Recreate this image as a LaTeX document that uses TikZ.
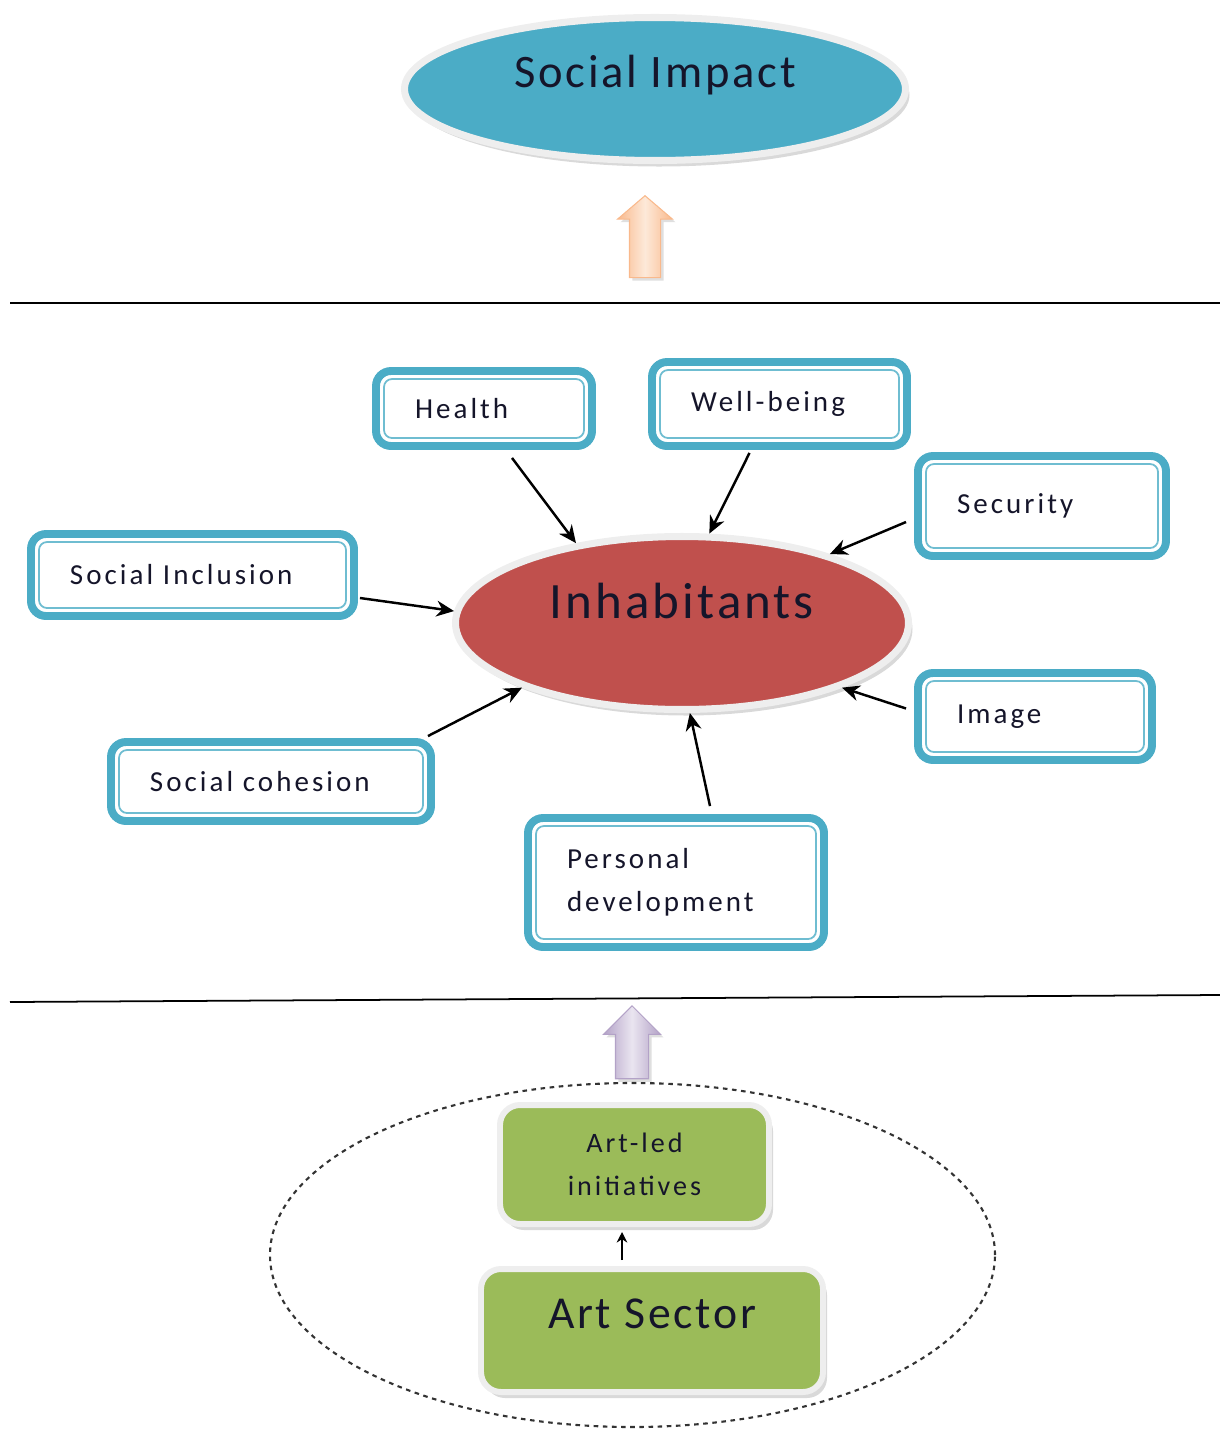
\documentclass[tikz,border=0pt]{standalone}
\usepackage{fontspec}
\usepackage{tikz}
\usetikzlibrary{calc,shapes.geometric,shapes.arrows,shadows,arrows.meta}

\setmainfont{Carlito}
\newfontfamily\smallfont[LetterSpace=10.5]{Carlito}
\newfontfamily\bigfont[LetterSpace=6]{Carlito}

\definecolor{impactblue}{HTML}{4BACC6}
\definecolor{inhabred}{HTML}{C0504D}
\definecolor{artgreen}{HTML}{9BBB59}
\definecolor{rimgrey}{HTML}{EEEEEE}
\definecolor{inktext}{HTML}{15152A}
\definecolor{peach}{HTML}{F9B98C}
\definecolor{peachlight}{HTML}{FDE9D9}
\definecolor{lilac}{HTML}{B3A2C7}
\definecolor{lilaclight}{HTML}{EAE5F0}

\tikzset{
  factor/.style={rectangle, draw=impactblue, line width=4.5pt, rounded corners=3mm,
    fill=white, align=left, inner xsep=7.8mm, inner ysep=0pt, text=inktext,
    font=\smallfont\fontsize{16.5}{24.5}\selectfont,
    path picture={\draw[impactblue!80, line width=1pt, rounded corners=1.6mm]
      ([shift={(1.6mm,1.6mm)}]path picture bounding box.south west) rectangle
      ([shift={(-1.6mm,-1.6mm)}]path picture bounding box.north east);}},
  bubble/.style={ellipse, draw=rimgrey, line width=4pt, inner sep=2pt, text=inktext,
    drop shadow={shadow xshift=0.8mm, shadow yshift=-1.2mm, opacity=0.3}},
  artbox/.style={rectangle, rounded corners=4mm, fill=artgreen, draw=rimgrey,
    line width=3.4pt, inner sep=2pt, text=inktext,
    drop shadow={shadow xshift=0.8mm, shadow yshift=-1.2mm, opacity=0.3}},
  feeds/.style={line width=1.4pt, -{Stealth[length=10pt,width=9pt]}},
  tier/.style={single arrow, rotate=90, anchor=tip, inner xsep=0pt,
    single arrow head extend=2.4mm, line width=0.6pt,
    drop shadow={shadow xshift=0.6mm, shadow yshift=-0.6mm, opacity=0.25}},
}

\begin{document}
\begin{tikzpicture}[x=0.2mm, y=-0.2mm]
    \useasboundingbox (0,0) rectangle (1220,1429);

    % top tier
    \node[bubble, fill=impactblue, minimum width=100.2mm, minimum height=28.6mm,
        text height=12pt, text depth=13.2pt,
        font=\bigfont\fontsize{26.5}{30}\selectfont] (impact) at (655,89) {Social Impact};
    \node[tier, draw=peach, inner ysep=3mm, minimum width=10.8mm, minimum height=16.4mm,
        single arrow tip angle=99, left color=peach, right color=peach,
        middle color=peachlight] (up1) at (645,195) {};

    \draw[line width=1pt] (10,303) -- (1220,303);

    % middle tier
    \node[bubble, fill=inhabred, minimum width=90.6mm, minimum height=34.6mm,
        text height=10pt, text depth=15.6pt,
        font=\bigfont\fontsize{29}{32}\selectfont] (inhab) at (682,623) {Inhabitants};

    \node[factor, text width=27.6mm, minimum height=15mm] (health) at (484,408.5) {Health};
    \node[factor, text width=35.4mm, minimum height=16.8mm] (wellbeing) at (779.5,404) {Well-being};
    \node[factor, text width=34mm, minimum height=20mm] (security) at (1042,506) {Security};
    \node[factor, text width=49mm, minimum height=16.4mm] (inclusion) at (192.5,575) {Social Inclusion};
    \node[factor, text width=31.2mm, minimum height=17.4mm] (image) at (1035,716.5) {Image};
    \node[factor, text width=48.4mm, minimum height=15.8mm] (cohesion) at (271,781.5) {Social cohesion};
    \node[factor, text width=43.6mm, minimum height=25.8mm] (personal) at (676,882.5) {Personal\\development};

    \draw[feeds] ($(health.south)+(28,8)$) -- (inhab.143);
    \draw[feeds] ($(wellbeing.south)+(-30,3)$) -- (inhab.73);
    \draw[feeds] ($(security.west)+(-8,16)$) -- (inhab.25);
    \draw[feeds] ($(inclusion.east)+(2,23)$) -- (inhab.177);
    \draw[feeds] ($(image.west)+(-8,-8)$) -- (inhab.-22);
    \draw[feeds] ($(cohesion.north east)+(-7,-2)$) -- (inhab.202);
    \draw[feeds] ($(personal.north)+(34,-8)$) -- (inhab.-85);

    \draw[line width=1pt] (10,1002) -- (1220,995);

    % bottom tier
    \node[tier, draw=lilac, inner ysep=3.2mm, minimum width=11.2mm, minimum height=14.6mm,
        single arrow tip angle=90, left color=lilac, right color=lilac,
        middle color=lilaclight] (up2) at (632,1005) {};

    \node[ellipse, draw=black!80, line width=1.2pt, dash pattern=on 2.6pt off 2.6pt,
        minimum width=145mm, minimum height=68.8mm] (frame) at (632.5,1255) {};

    \node[artbox, minimum width=53.8mm, minimum height=23.8mm, align=center,
        font=\smallfont\fontsize{16}{24.5}\selectfont] (artled) at (634.5,1164.5) {Art-led\\initiatives};
    \node[artbox, minimum width=68.4mm, minimum height=24.6mm,
        text height=10pt, text depth=12.8pt,
        font=\bigfont\fontsize{26}{30}\selectfont] (sector) at (652,1330.5) {Art Sector};

    \draw[line width=1.2pt, -{Stealth[length=6pt,width=6pt]}] ($(sector.north)+(-30,-6)$) -- ($(artled.south)+(-12.5,5)$);
\end{tikzpicture}
\end{document}
